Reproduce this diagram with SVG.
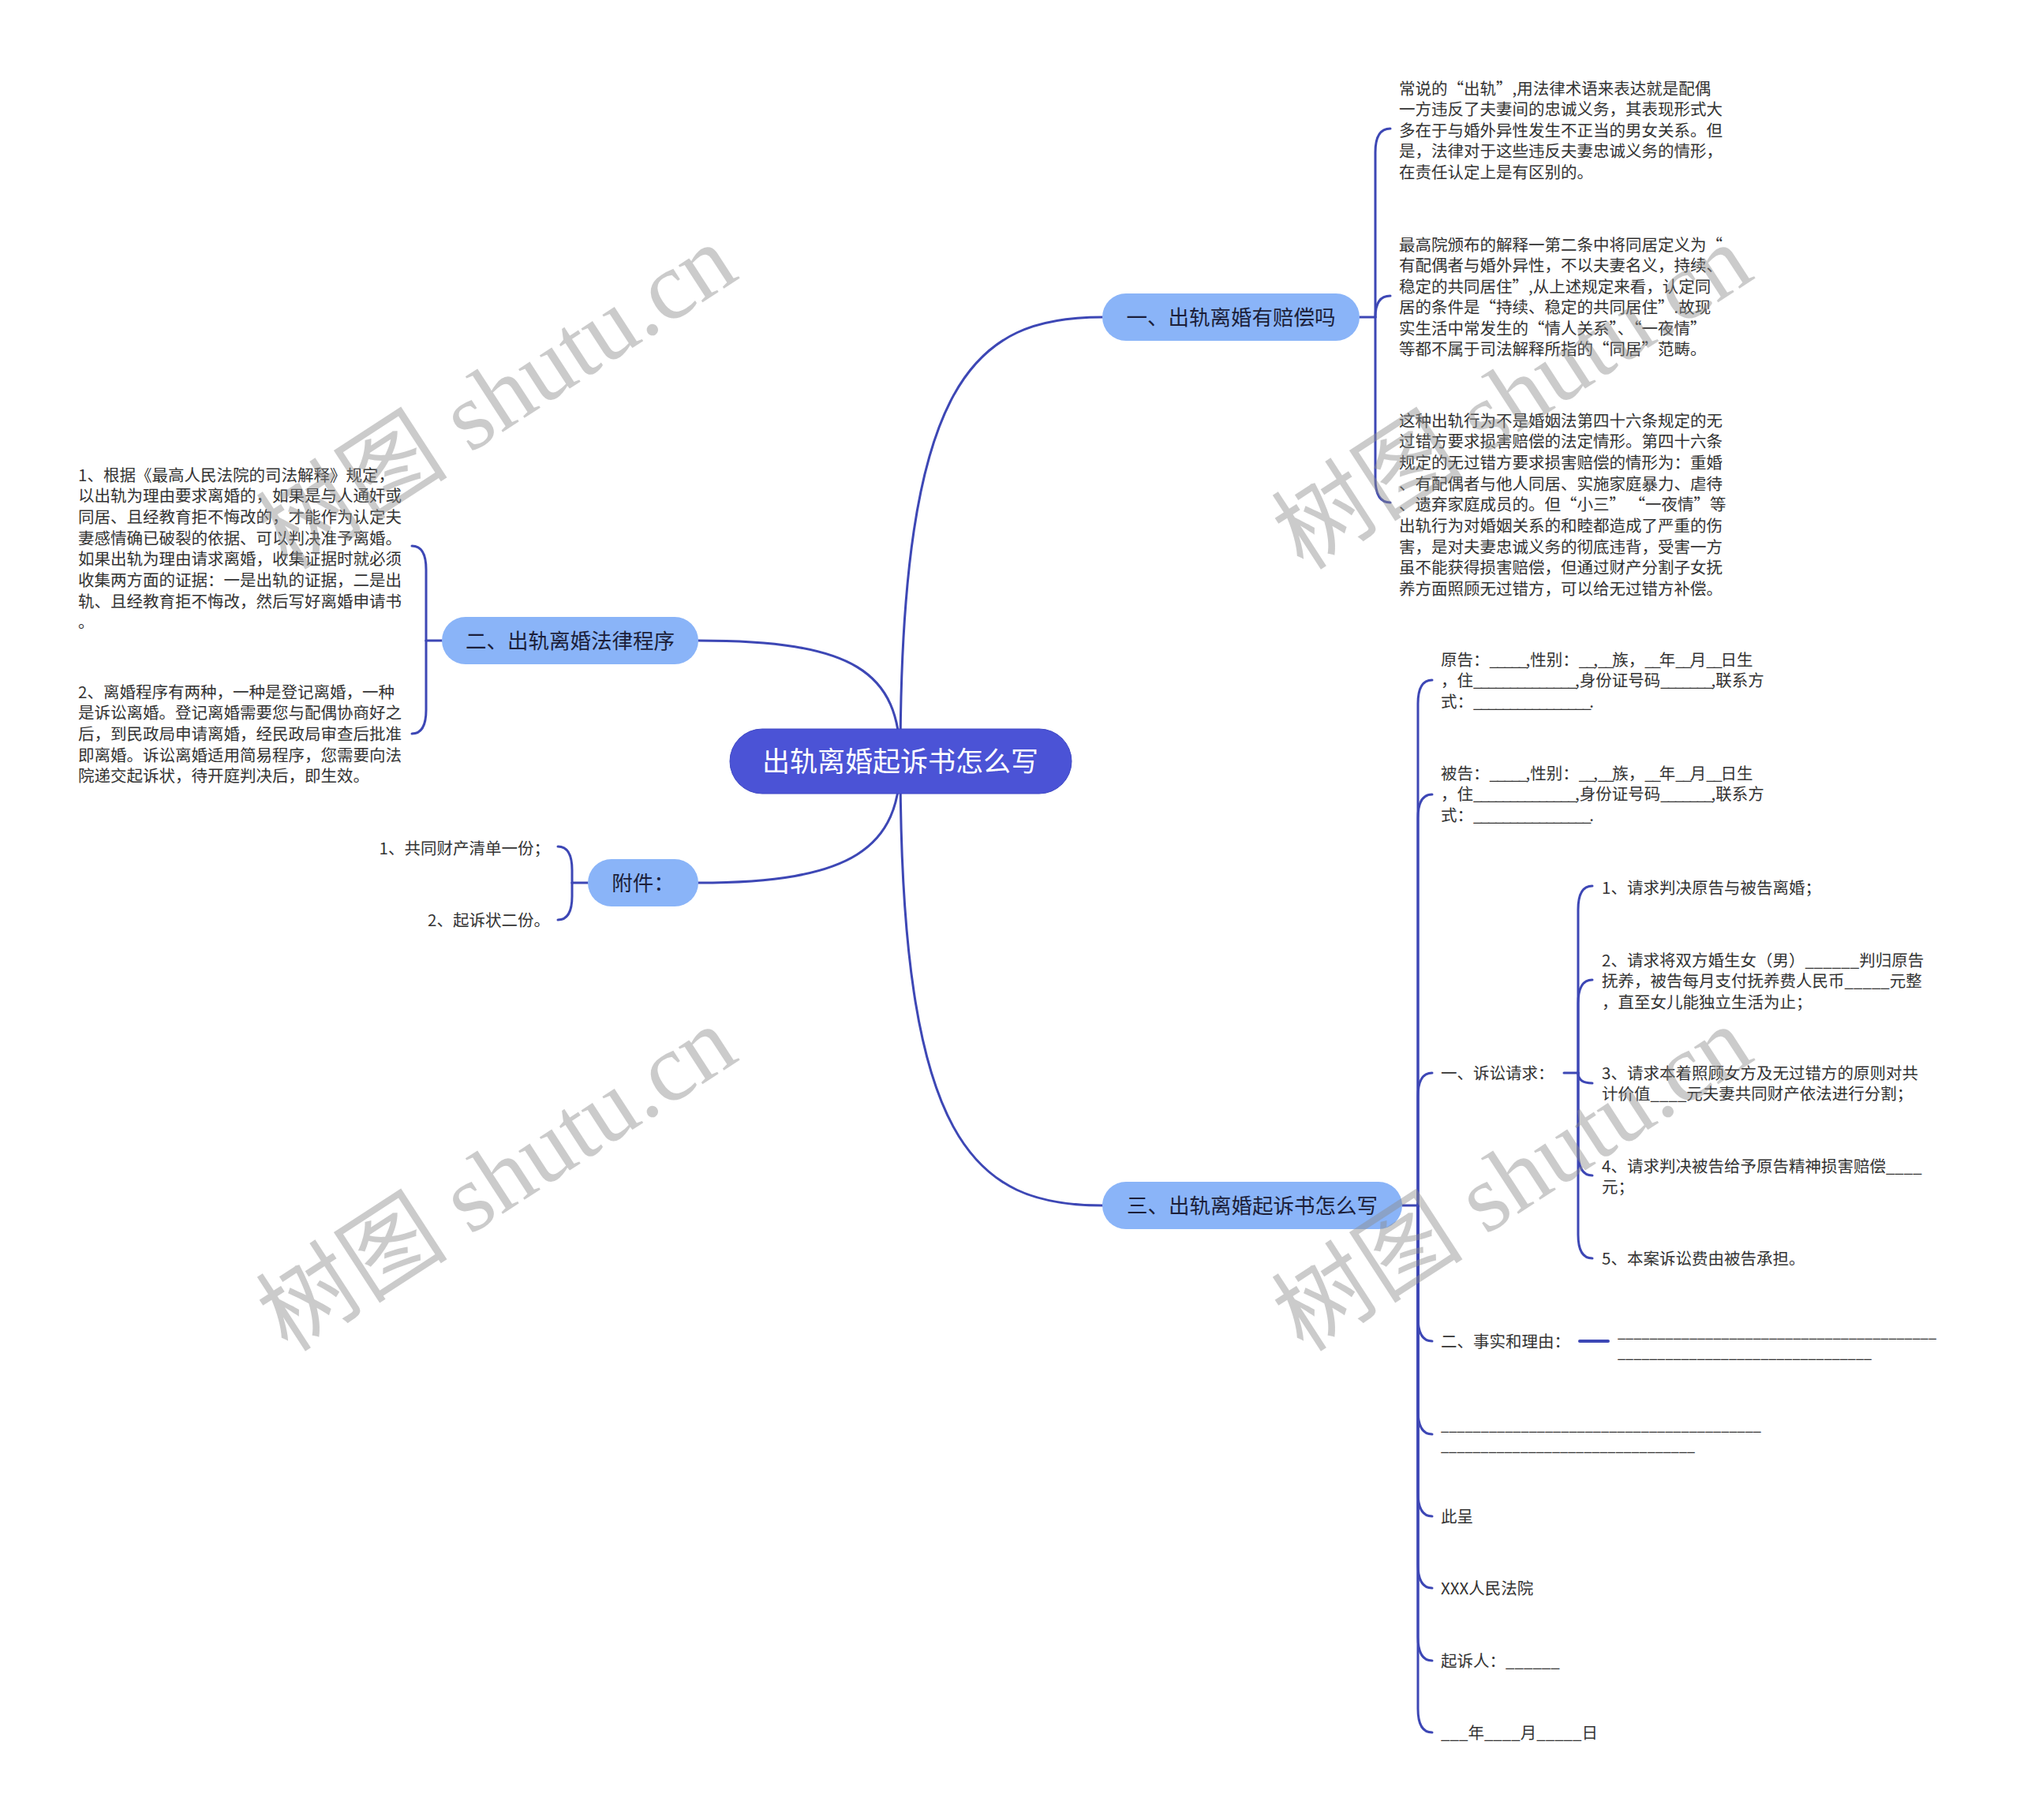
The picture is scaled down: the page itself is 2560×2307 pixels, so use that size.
<svg xmlns="http://www.w3.org/2000/svg" width="2560" height="2307" viewBox="0 0 2560 2307">
<style>
.bg{fill:#ffffff}
.ln{fill:none;stroke:#3d47b5;stroke-width:3;stroke-linecap:round}
.t{font-family:"Noto Sans CJK SC","Microsoft YaHei",sans-serif;font-size:20.5px;fill:#333333}
.u{letter-spacing:-2.25px}
.b{font-family:"Noto Sans CJK SC","Microsoft YaHei",sans-serif;font-size:26.5px;fill:#1c1f3a}
.c{font-family:"Noto Sans CJK SC","Microsoft YaHei",sans-serif;font-size:35px;fill:#ffffff}
.nb{fill:#8ab4f8}
.nc{fill:#4b53d6;stroke:#4049c4;stroke-width:1}
.wm{font-family:"Liberation Serif","Noto Sans CJK SC",serif;font-size:122px;fill:#8c8c8c;fill-opacity:0.45}
</style>
<rect class="bg" x="0" y="0" width="2560" height="2307"/>

<g id="connectors">
  <path class="ln" d="M1141,965 C1141,480 1235,402 1397,402"/>
  <path class="ln" d="M1141,965 C1141,1450 1235,1528 1397,1528"/>
  <path class="ln" d="M1141,965 C1141,850 1080,812 885,812"/>
  <path class="ln" d="M1141,965 C1141,1075 1080,1119 885,1119"/>

  <path class="ln" d="M1723,402 H1743"/>
  <path class="ln" d="M1743,402 V193 Q1743,163 1762,163"/>
  <path class="ln" d="M1743,402 Q1743,375 1762,375"/>
  <path class="ln" d="M1743,402 V607 Q1743,637 1762,637"/>

  <path class="ln" d="M560,812 H540"/>
  <path class="ln" d="M540,812 V722 Q540,692 522,692"/>
  <path class="ln" d="M540,812 V900 Q540,930 522,930"/>

  <path class="ln" d="M745,1119 H725"/>
  <path class="ln" d="M725,1119 V1103 Q725,1073 707,1073"/>
  <path class="ln" d="M725,1119 V1136 Q725,1166 707,1166"/>

  <path class="ln" d="M1777,1528 H1797"/>
  <path class="ln" d="M1797,1528 V892 Q1797,862 1815,862"/>
  <path class="ln" d="M1797,1528 V1037 Q1797,1007 1815,1007"/>
  <path class="ln" d="M1797,1528 V1390 Q1797,1360 1815,1360"/>
  <path class="ln" d="M1797,1528 V1670 Q1797,1700 1815,1700"/>
  <path class="ln" d="M1797,1528 V1788 Q1797,1818 1815,1818"/>
  <path class="ln" d="M1797,1528 V1892 Q1797,1922 1815,1922"/>
  <path class="ln" d="M1797,1528 V1983 Q1797,2013 1815,2013"/>
  <path class="ln" d="M1797,1528 V2075 Q1797,2105 1815,2105"/>
  <path class="ln" d="M1797,1528 V2166 Q1797,2196 1815,2196"/>

  <path class="ln" d="M1982,1360 H2000"/>
  <path class="ln" d="M2000,1360 V1153 Q2000,1123 2018,1123"/>
  <path class="ln" d="M2000,1360 V1272 Q2000,1242 2018,1242"/>
  <path class="ln" d="M2000,1360 Q2000,1373 2018,1373"/>
  <path class="ln" d="M2000,1360 V1460 Q2000,1490 2018,1490"/>
  <path class="ln" d="M2000,1360 V1565 Q2000,1595 2018,1595"/>

  <path class="ln" d="M2002,1700 H2038" style="stroke-width:4"/>
</g>

<g id="node-root">
  <rect class="nc" x="925" y="924" width="433" height="82" rx="41"/>
  <text class="c" x="1141" y="978" text-anchor="middle">出轨离婚起诉书怎么写</text>
</g>

<g id="node-b1">
  <rect class="nb" x="1397" y="372" width="326" height="60" rx="30"/>
  <text class="b" x="1560" y="412" text-anchor="middle">一、出轨离婚有赔偿吗</text>
</g>

<g id="node-b2">
  <rect class="nb" x="560" y="782" width="325" height="60" rx="30"/>
  <text class="b" x="722.5" y="822" text-anchor="middle">二、出轨离婚法律程序</text>
</g>

<g id="node-b4">
  <rect class="nb" x="745" y="1089" width="140" height="60" rx="30"/>
  <text class="b" x="815" y="1129" text-anchor="middle">附件：</text>
</g>

<g id="node-b3">
  <rect class="nb" x="1397" y="1498" width="380" height="60" rx="30"/>
  <text class="b" x="1587" y="1538" text-anchor="middle">三、出轨离婚起诉书怎么写</text>
</g>

<g id="node-b1-a">
  <text class="t">
    <tspan x="1773" y="119.5">常说的“出轨”,用法律术语来表达就是配偶</tspan>
    <tspan x="1773" y="146">一方违反了夫妻间的忠诚义务，其表现形式大</tspan>
    <tspan x="1773" y="172.5">多在于与婚外异性发生不正当的男女关系。但</tspan>
    <tspan x="1773" y="199">是，法律对于这些违反夫妻忠诚义务的情形，</tspan>
    <tspan x="1773" y="225.5">在责任认定上是有区别的。</tspan>
  </text>
</g>

<g id="node-b1-b">
  <text class="t">
    <tspan x="1773" y="317.5">最高院颁布的解释一第二条中将同居定义为“</tspan>
    <tspan x="1773" y="344">有配偶者与婚外异性，不以夫妻名义，持续、</tspan>
    <tspan x="1773" y="370.5">稳定的共同居住”,从上述规定来看，认定同</tspan>
    <tspan x="1773" y="397">居的条件是“持续、稳定的共同居住”.故现</tspan>
    <tspan x="1773" y="423.5">实生活中常发生的“情人关系”、“一夜情”</tspan>
    <tspan x="1773" y="450">等都不属于司法解释所指的“同居”范畴。</tspan>
  </text>
</g>

<g id="node-b1-c">
  <text class="t">
    <tspan x="1773" y="540.5">这种出轨行为不是婚姻法第四十六条规定的无</tspan>
    <tspan x="1773" y="567.2">过错方要求损害赔偿的法定情形。第四十六条</tspan>
    <tspan x="1773" y="593.8">规定的无过错方要求损害赔偿的情形为：重婚</tspan>
    <tspan x="1773" y="620.5">、有配偶者与他人同居、实施家庭暴力、虐待</tspan>
    <tspan x="1773" y="647.2">、遗弃家庭成员的。但“小三” “一夜情”等</tspan>
    <tspan x="1773" y="673.8">出轨行为对婚姻关系的和睦都造成了严重的伤</tspan>
    <tspan x="1773" y="700.5">害，是对夫妻忠诚义务的彻底违背，受害一方</tspan>
    <tspan x="1773" y="727.2">虽不能获得损害赔偿，但通过财产分割子女抚</tspan>
    <tspan x="1773" y="753.8">养方面照顾无过错方，可以给无过错方补偿。</tspan>
  </text>
</g>

<g id="node-b2-a">
  <text class="t">
    <tspan x="99" y="609.5">1、根据《最高人民法院的司法解释》规定，</tspan>
    <tspan x="99" y="636.2">以出轨为理由要求离婚的，如果是与人通奸或</tspan>
    <tspan x="99" y="662.8">同居、且经教育拒不悔改的，才能作为认定夫</tspan>
    <tspan x="99" y="689.5">妻感情确已破裂的依据、可以判决准予离婚。</tspan>
    <tspan x="99" y="716.2">如果出轨为理由请求离婚，收集证据时就必须</tspan>
    <tspan x="99" y="742.8">收集两方面的证据：一是出轨的证据，二是出</tspan>
    <tspan x="99" y="769.5">轨、且经教育拒不悔改，然后写好离婚申请书</tspan>
    <tspan x="99" y="796.2">。</tspan>
  </text>
</g>

<g id="node-b2-b">
  <text class="t">
    <tspan x="99" y="884.5">2、离婚程序有两种，一种是登记离婚，一种</tspan>
    <tspan x="99" y="911.2">是诉讼离婚。登记离婚需要您与配偶协商好之</tspan>
    <tspan x="99" y="937.8">后，到民政局申请离婚，经民政局审查后批准</tspan>
    <tspan x="99" y="964.5">即离婚。诉讼离婚适用简易程序，您需要向法</tspan>
    <tspan x="99" y="991.2">院递交起诉状，待开庭判决后，即生效。</tspan>
  </text>
</g>

<g id="node-b4-a">
  <text class="t" x="697" y="1082.5" text-anchor="end">1、共同财产清单一份；</text>
</g>
<g id="node-b4-b">
  <text class="t" x="697" y="1173.5" text-anchor="end">2、起诉状二份。</text>
</g>

<g id="node-b3-plaintiff">
  <text class="t">
    <tspan x="1826" y="843.5">原告：<tspan class="u">_____</tspan>,性别：<tspan class="u">__</tspan>,<tspan class="u">__</tspan>族，<tspan class="u">__</tspan>年<tspan class="u">__</tspan>月<tspan class="u">__</tspan>日生</tspan>
    <tspan x="1826" y="870.2">，住<tspan class="u">______________</tspan>,身份证号码<tspan class="u">_______</tspan>,联系方</tspan>
    <tspan x="1826" y="896.8">式：<tspan class="u">________________</tspan>.</tspan>
  </text>
</g>

<g id="node-b3-defendant">
  <text class="t">
    <tspan x="1826" y="987.5">被告：<tspan class="u">_____</tspan>,性别：<tspan class="u">__</tspan>,<tspan class="u">__</tspan>族，<tspan class="u">__</tspan>年<tspan class="u">__</tspan>月<tspan class="u">__</tspan>日生</tspan>
    <tspan x="1826" y="1014.2">，住<tspan class="u">______________</tspan>,身份证号码<tspan class="u">_______</tspan>,联系方</tspan>
    <tspan x="1826" y="1040.8">式：<tspan class="u">________________</tspan>.</tspan>
  </text>
</g>

<g id="node-b3-claims">
  <text class="t" x="1826" y="1367.5">一、诉讼请求：</text>
</g>
<g id="node-claim-1">
  <text class="t" x="2030" y="1132.5">1、请求判决原告与被告离婚；</text>
</g>
<g id="node-claim-2">
  <text class="t">
    <tspan x="2030" y="1224.5">2、请求将双方婚生女（男）______判归原告</tspan>
    <tspan x="2030" y="1251.2">抚养，被告每月支付抚养费人民币_____元整</tspan>
    <tspan x="2030" y="1277.8">，直至女儿能独立生活为止；</tspan>
  </text>
</g>
<g id="node-claim-3">
  <text class="t">
    <tspan x="2030" y="1367.5">3、请求本着照顾女方及无过错方的原则对共</tspan>
    <tspan x="2030" y="1394.2">计价值____元夫妻共同财产依法进行分割；</tspan>
  </text>
</g>
<g id="node-claim-4">
  <text class="t">
    <tspan x="2030" y="1485.5">4、请求判决被告给予原告精神损害赔偿____</tspan>
    <tspan x="2030" y="1512.2">元；</tspan>
  </text>
</g>
<g id="node-claim-5">
  <text class="t" x="2030" y="1602.5">5、本案诉讼费由被告承担。</text>
</g>

<g id="node-b3-facts">
  <text class="t" x="1826" y="1707.5">二、事实和理由：</text>
</g>
<g id="node-facts-text">
  <text class="t">
    <tspan x="2050" y="1694.5" textLength="404" lengthAdjust="spacingAndGlyphs">________________________________________</tspan>
    <tspan x="2050" y="1721.2" textLength="322" lengthAdjust="spacingAndGlyphs">________________________________</tspan>
  </text>
</g>

<g id="node-b3-blank">
  <text class="t">
    <tspan x="1826" y="1812.5" textLength="406" lengthAdjust="spacingAndGlyphs">________________________________________</tspan>
    <tspan x="1826" y="1839.2" textLength="322" lengthAdjust="spacingAndGlyphs">________________________________</tspan>
  </text>
</g>

<g id="node-b3-submit">
  <text class="t" x="1826" y="1929.5">此呈</text>
</g>
<g id="node-b3-court">
  <text class="t" x="1826" y="2020.5">XXX人民法院</text>
</g>
<g id="node-b3-sign">
  <text class="t" x="1826" y="2112.5">起诉人：______</text>
</g>
<g id="node-b3-date">
  <text class="t" x="1826" y="2203.5">___年____月_____日</text>
</g>

<g id="watermarks">
  <text class="wm" text-anchor="middle" transform="translate(652,538) rotate(-33)">树图 shutu.cn</text>
  <text class="wm" text-anchor="middle" transform="translate(652,1529) rotate(-33)">树图 shutu.cn</text>
  <text class="wm" text-anchor="middle" transform="translate(1939,538) rotate(-33)">树图 shutu.cn</text>
  <text class="wm" text-anchor="middle" transform="translate(1939,1529) rotate(-33)">树图 shutu.cn</text>
</g>
</svg>
